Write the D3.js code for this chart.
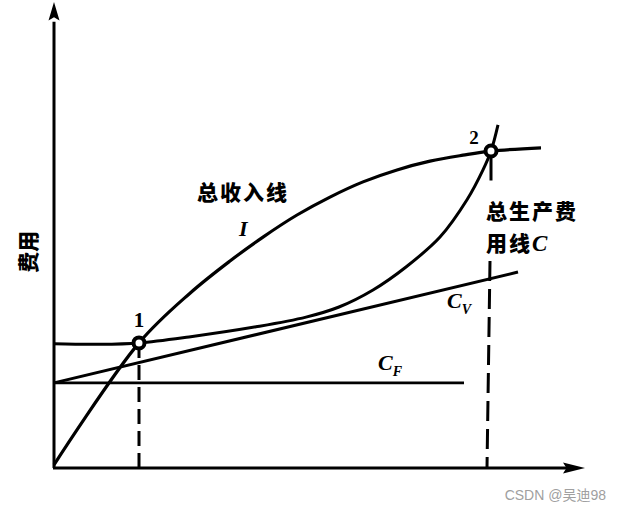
<!DOCTYPE html>
<html lang="zh">
<head>
  <meta charset="UTF-8">
  <title>总收入线与总生产费用线</title>
  <script src="https://d3js.org/d3.v7.min.js"></script>
  <style>
    body { margin: 0; background: #fff; }
    .cjk { font-family: "Noto Sans CJK SC", sans-serif; font-weight: 900; }
    .sym { font-family: "Liberation Serif", "DejaVu Serif", serif; font-weight: bold; font-style: italic; }
    .num { font-family: "Liberation Serif", "DejaVu Serif", serif; }
  </style>
</head>
<body>
  <svg width="620" height="510"></svg>

  <script>
    // total income curve I (x = output, y = cost/income, arbitrary units)
    const incomeX = [0, 17, 27.2, 35.2, 41.8, 48.6, 55.2, 61.8, 68.6, 75.2, 81.8, 87.4, 97.4];
    const incomeY = [0.7, 27.2, 38, 45, 50.2, 55, 58.9, 62.2, 64.8, 66.7, 68, 68.9, 69.6];

    // total production cost curve C
    const costX = [0, 9, 17, 27, 40.4, 50.4, 57, 63.8, 70.4, 77.2, 82.6, 85.8, 87.4, 88.8];
    const costY = [27, 26.9, 27.2, 28.5, 30.7, 32.8, 35, 38.7, 43.7, 50.2, 58.3, 64.8, 68.9, 74.6];

    // variable cost line Cv and fixed cost line CF
    const cvX = [0, 92.8];
    const cvY = [18.5, 42.6];
    const cfX = [0, 82];
    const cfY = [18.5, 18.5];

    // break-even points 1 and 2
    const pointNames = ["1", "2"];
    const pointX = [17, 87.4];
    const pointY = [27.2, 68.9];

    const svg = d3.select("svg");

    const x = d3.scaleLinear().domain([0, 100]).range([54, 554]);
    const y = d3.scaleLinear().domain([0, 100]).range([468, 8]);

    const line = d3.line().x(d => x(d[0])).y(d => y(d[1]));
    const smooth = d3.line().x(d => x(d[0])).y(d => y(d[1])).curve(d3.curveCatmullRom.alpha(0.5));

    // axes with arrow heads
    svg.append("line")
      .attr("x1", x(0)).attr("y1", y(0))
      .attr("x2", x(0)).attr("y2", y(97))
      .attr("stroke", "#000").attr("stroke-width", 3);
    svg.append("line")
      .attr("x1", x(0) - 1).attr("y1", y(0))
      .attr("x2", x(103)).attr("y2", y(0))
      .attr("stroke", "#000").attr("stroke-width", 3);

    svg.append("path")
      .attr("d", `M${x(0) - 5.5},${y(97.3)}L${x(0)},${y(101.3)}L${x(0) + 5.5},${y(97.3)}L${x(0)},${y(98)}Z`)
      .attr("fill", "#000");
    svg.append("path")
      .attr("d", `M${x(101.8)},${y(0) - 5.5}L${x(106.2)},${y(0)}L${x(101.8)},${y(0) + 5.5}L${x(102.5)},${y(0)}Z`)
      .attr("fill", "#000");

    // dashed drops from break-even points
    svg.append("line")
      .attr("x1", x(pointX[0])).attr("y1", y(pointY[0]))
      .attr("x2", x(pointX[0])).attr("y2", y(0))
      .attr("stroke", "#000").attr("stroke-width", 3)
      .attr("stroke-dasharray", "15,7");
    svg.append("line")
      .attr("x1", x(pointX[1])).attr("y1", y(pointY[1]))
      .attr("x2", x(pointX[1])).attr("y2", y(62.5))
      .attr("stroke", "#000").attr("stroke-width", 3);
    svg.append("line")
      .attr("x1", x(pointX[1]) - 1).attr("y1", y(45))
      .attr("x2", x(pointX[1]) - 4).attr("y2", y(0))
      .attr("stroke", "#000").attr("stroke-width", 3)
      .attr("stroke-dasharray", "20,8");

    // cost lines
    svg.append("path")
      .attr("d", line(d3.zip(cfX, cfY)))
      .attr("fill", "none").attr("stroke", "#000").attr("stroke-width", 2.6);
    svg.append("path")
      .attr("d", line(d3.zip(cvX, cvY)))
      .attr("fill", "none").attr("stroke", "#000").attr("stroke-width", 3);

    // curves
    svg.append("path")
      .attr("d", smooth(d3.zip(costX, costY)))
      .attr("fill", "none").attr("stroke", "#000").attr("stroke-width", 3);
    svg.append("path")
      .attr("d", smooth(d3.zip(incomeX, incomeY)))
      .attr("fill", "none").attr("stroke", "#000").attr("stroke-width", 3.2);

    // break-even markers
    svg.selectAll(".pt")
      .data(d3.zip(pointNames, pointX, pointY))
      .enter()
      .append("circle")
      .attr("class", "pt")
      .attr("cx", d => x(d[1]))
      .attr("cy", d => y(d[2]))
      .attr("r", 5.5)
      .attr("fill", "#fff")
      .attr("stroke", "#000")
      .attr("stroke-width", 4);

    svg.append("text").attr("class", "num")
      .attr("x", x(pointX[0])).attr("y", y(pointY[0]) - 16)
      .attr("text-anchor", "middle")
      .style("font-size", "21px").style("font-weight", "bold")
      .text(pointNames[0]);
    svg.append("text").attr("class", "num")
      .attr("x", x(pointX[1]) - 17).attr("y", y(pointY[1]) - 7)
      .attr("text-anchor", "middle")
      .style("font-size", "19px").style("font-weight", "bold")
      .text(pointNames[1]);

    // labels
    svg.append("text").attr("class", "cjk")
      .attr("transform", `translate(36,${y(47)}) rotate(-90)`)
      .attr("text-anchor", "middle")
      .style("font-size", "21px")
      .text("费用");

    svg.append("text").attr("class", "cjk")
      .attr("x", 197).attr("y", 200)
      .style("font-size", "21px").style("letter-spacing", "2px")
      .text("总收入线");
    svg.append("text").attr("class", "sym")
      .attr("x", 239).attr("y", 236)
      .style("font-size", "22px")
      .text("I");

    svg.append("text").attr("class", "cjk")
      .attr("x", 486).attr("y", 219)
      .style("font-size", "21px").style("letter-spacing", "2px")
      .text("总生产费");
    const cLabel = svg.append("text").attr("class", "cjk")
      .attr("x", 486).attr("y", 251)
      .style("font-size", "21px").style("letter-spacing", "2px");
    cLabel.append("tspan").text("用线");
    cLabel.append("tspan").attr("class", "sym").style("font-size", "23px").text("C");

    const cv = svg.append("text").attr("class", "sym")
      .attr("x", 447).attr("y", 308)
      .style("font-size", "22px");
    cv.append("tspan").text("C");
    cv.append("tspan").attr("dy", 6).style("font-size", "14px").text("V");

    const cf = svg.append("text").attr("class", "sym")
      .attr("x", 378).attr("y", 370)
      .style("font-size", "22px");
    cf.append("tspan").text("C");
    cf.append("tspan").attr("dy", 6).style("font-size", "14px").text("F");

    // watermark
    svg.append("text")
      .attr("x", 606).attr("y", 500)
      .attr("text-anchor", "end")
      .style("font-family", "'Liberation Sans', 'Noto Sans CJK SC', sans-serif")
      .style("font-size", "14px")
      .style("fill", "#a0a0a0")
      .text("CSDN @吴迪98");
  </script>
</body>
</html>
